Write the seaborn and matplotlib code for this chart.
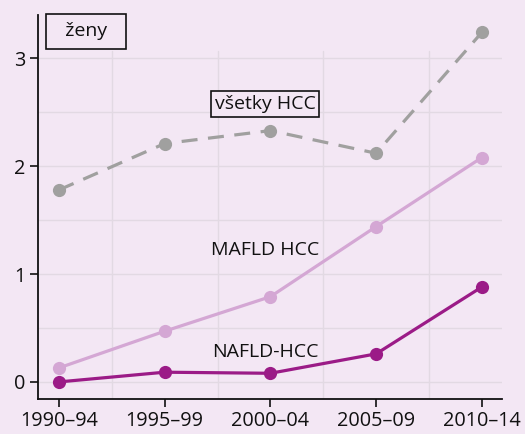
import matplotlib.pyplot as plt
import seaborn as sns
import pandas as pd

periods = ["1990–94", "1995–99", "2000–04", "2005–09", "2010–14"]
all_hcc = [1.78, 2.21, 2.33, 2.12, 3.24]
mafld_hcc = [0.13, 0.47, 0.79, 1.44, 2.08]
nafld_hcc = [0.0, 0.09, 0.08, 0.26, 0.88]

bg = "#f3e7f4"
sns.set_theme(style="white")
plt.rcParams["font.family"] = ["Open Sans", "DejaVu Sans"]
plt.rcParams["text.color"] = "#111111"

fig = plt.figure(figsize=(5.25, 4.34), dpi=100, facecolor=bg)
ax = fig.add_axes([0.072, 0.081, 0.884, 0.884])
ax.set_facecolor(bg)

series = [
    (all_hcc, "#a0a09f", (5, 3.3)),
    (mafld_hcc, "#d4a7d4", ""),
    (nafld_hcc, "#9b1b87", ""),
]
for vals, col, dash in series:
    df = pd.DataFrame({"x": range(len(periods)), "y": vals})
    sns.lineplot(data=df, x="x", y="y", ax=ax, color=col, lw=2.3,
                 marker="o", markersize=9.5, markeredgewidth=0, zorder=3)
    if dash:
        ax.lines[-1].set_dashes(dash)

ax.set_xlim(-0.2, 4.19)
ax.set_ylim(-0.157, 3.4)

# grid
gcol = "#e2d9e3"
for y in [0, 0.5, 1, 1.5, 2, 2.5, 3]:
    ax.plot([-0.2, 4.19], [y, y], color=gcol, lw=1, zorder=1)
for x in [0.5, 1.5, 2.5, 3.5]:
    ax.plot([x, x], [-0.157, 3.07], color=gcol, lw=1, zorder=1)

ax.set_xticks(range(len(periods)))
ax.set_xticklabels(periods)
ax.set_yticks([0, 1, 2, 3])
ax.set_xlabel("")
ax.set_ylabel("")
ax.tick_params(axis="both", labelsize=14.3, colors="#111111", length=6, width=1.2,
               direction="out", bottom=True, left=True, pad=3)
for s in ["top", "right"]:
    ax.spines[s].set_visible(False)
for s in ["left", "bottom"]:
    ax.spines[s].set_color("#111111")
    ax.spines[s].set_linewidth(1.3)

fs = 14
ax.text(0.26, 3.25, "  ženy  ", fontsize=fs, ha="center", va="center", zorder=5,
        bbox=dict(boxstyle="square,pad=0.45", fc=bg, ec="#111111", lw=1.2))
ax.text(1.95, 2.58, "všetky HCC", fontsize=fs, ha="center", va="center", zorder=5,
        bbox=dict(boxstyle="square,pad=0.2", fc=bg, ec="#111111", lw=1.2))
ax.text(1.95, 1.22, "MAFLD HCC", fontsize=fs, ha="center", va="center", zorder=5)
ax.text(1.95, 0.28, "NAFLD-HCC", fontsize=fs, ha="center", va="center", zorder=5)

fig.savefig("out.png", dpi=100, facecolor=bg)
